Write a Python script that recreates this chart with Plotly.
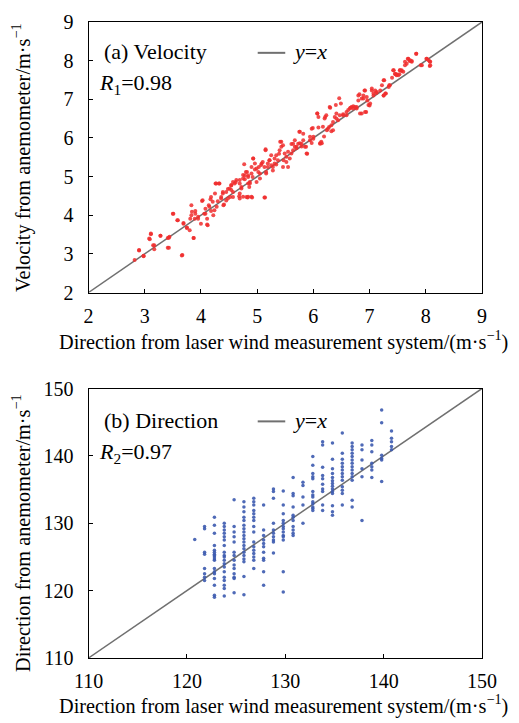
import plotly.graph_objects as go

# ---------------- Data: (a) Velocity ----------------
speed_laser_a = [2.82,2.90,2.98,3.11,3.08,3.17,3.28,3.41,3.43,3.51,3.58,3.66,3.69,3.75,3.81,3.83,3.87,3.90,3.95,4.02,
                 4.06,4.11,4.08,4.17,4.14,4.18,4.22,4.25,4.27,4.33,4.30,4.36,4.39,4.41,4.45,4.48,4.52,4.54,4.57,4.60,
                 4.68,4.72,4.69,4.78,4.77,4.83,4.91,4.86,4.87,4.84,4.90,4.93,4.92,4.96,4.99,5.03,5.05,5.08,5.14,5.15,
                 5.16,5.19,5.22,5.25,5.28,5.31,5.34,5.39,5.41,5.43,5.46,5.47,5.52,5.55,5.61,5.64,5.67,5.70,5.75,5.76,
                 5.79,5.82,5.87,5.89,5.94,5.97,5.99,6.00,6.07,6.09,6.12,6.15,6.19,6.21,6.24,6.28,6.30,6.32,6.35,6.38,
                 6.41,6.44,6.46,6.49,6.53,6.59,6.66,6.71,6.77,6.80,6.82,6.86,6.89,6.92,6.94,6.96,7.00,7.04,7.07,7.12,
                 7.22,7.25,7.26,7.29,7.35,7.40,7.43,7.46,7.48,7.53,7.54,7.57,7.63,7.68,7.71,7.75,7.83,7.91,8.01,8.07,8.07]
speed_anemo_a = [2.84,3.09,2.94,3.53,3.40,3.22,3.47,3.16,3.42,4.04,3.87,2.96,3.80,3.68,3.91,4.26,3.41,4.11,3.96,4.37,
                 4.04,3.76,4.17,4.41,4.26,4.11,4.00,4.56,4.82,4.82,4.36,4.47,4.60,4.28,4.38,4.68,4.47,4.77,4.60,4.82,
                 4.49,4.73,4.91,4.93,5.32,4.46,4.46,4.73,4.86,5.03,5.08,5.47,4.99,5.18,4.86,5.25,5.08,5.34,4.46,5.71,
                 5.08,5.25,5.42,5.55,5.16,5.34,5.31,5.59,5.90,5.77,5.25,5.42,5.51,5.64,5.84,5.68,5.94,5.77,6.16,5.86,
                 5.78,5.94,5.77,5.59,6.03,5.87,6.26,6.03,6.63,6.27,5.86,5.86,6.04,6.54,6.20,6.28,6.78,6.17,6.20,6.54,
                 6.63,6.46,7.03,6.89,6.61,6.59,6.78,6.82,6.80,6.97,7.13,6.63,7.02,7.23,6.67,6.97,6.84,7.23,7.15,7.16,
                 7.36,7.10,7.49,7.15,7.36,7.56,7.75,7.65,7.65,7.65,7.75,7.73,7.97,8.05,7.99,7.99,8.18,7.88,8.05,7.98,7.86]

speed_laser_b = [2.90,2.98,3.09,3.11,3.15,3.17,3.28,3.41,3.43,3.44,3.50,3.59,3.67,3.69,3.75,3.80,3.83,3.84,3.87,3.89,
                 3.90,3.95,4.00,4.03,4.08,4.11,4.12,4.15,4.18,4.21,4.24,4.26,4.28,4.32,4.36,4.39,4.40,4.45,4.48,4.51,
                 4.54,4.57,4.62,4.69,4.72,4.75,4.78,4.81,4.84,4.82]
speed_anemo_b = [3.10,2.95,3.38,3.51,3.22,3.12,3.47,3.41,3.16,3.44,4.04,3.87,2.97,3.78,3.67,3.61,4.00,4.09,3.41,3.91,
                 4.04,3.91,3.78,4.39,4.04,3.91,3.74,4.22,4.47,4.35,4.13,4.82,4.22,4.82,4.43,4.56,4.26,4.60,4.43,4.69,
                 4.78,4.47,4.86,4.43,4.69,4.95,5.03,4.47,4.82,5.12]

speed_laser_c = [4.57,4.63,4.54,4.69,4.75,4.80,4.84,4.87,4.90,4.93,4.96,4.99,5.02,5.05,5.07,5.10,5.13,5.15,5.16,5.19,
                 5.22,5.25,5.28,5.31,5.34,5.37,5.40,5.43,5.46,5.49,5.52,5.55,5.58,5.61,5.64,5.67,5.70,5.73,5.76,5.79,
                 5.82,5.85,5.88,5.94,5.97,6.00,6.07,6.09,6.12,6.14,6.17,6.20,6.23,6.26,6.29,6.32,6.35,6.40,6.41,6.47,
                 6.53,6.59,6.62,4.75,4.84,4.90,5.13,4.69]
speed_anemo_c = [4.86,4.91,4.65,4.82,5.04,5.12,4.99,4.82,5.25,5.47,5.34,5.21,5.12,4.95,5.30,5.38,5.25,5.68,5.12,5.34,
                 5.42,5.29,5.25,5.47,5.55,5.42,5.68,5.90,5.81,5.60,5.38,5.25,5.47,5.60,5.85,5.77,5.73,5.85,6.16,5.85,
                 6.11,5.77,5.60,5.94,6.24,5.98,6.63,6.54,5.85,5.90,6.29,6.50,6.59,6.24,6.80,6.33,6.41,6.85,6.50,6.59,
                 6.59,6.67,6.72,4.48,4.48,4.48,4.46,4.56]

speed_laser_d = [6.65,6.68,6.71,6.74,6.77,6.80,6.83,6.86,6.89,6.91,6.92,6.95,6.98,7.01,7.04,7.07,7.10,7.13,7.19,7.25,
                 7.25,7.28,7.34,7.36,7.42,7.45,7.48,7.51,7.54,7.57,7.60,7.63,7.66,7.69,7.72,7.75,7.83,7.93,8.02,8.08,
                 8.08,8.05]
speed_anemo_d = [6.76,6.80,6.76,6.80,6.76,7.10,6.63,7.02,7.10,7.23,6.67,7.06,6.85,6.89,7.28,7.10,7.23,7.19,7.23,7.49,
                 7.10,7.15,7.32,7.36,7.75,7.66,7.62,7.62,7.75,7.75,7.71,7.88,7.92,8.05,8.01,7.97,8.18,7.88,8.05,7.97,
                 7.88,8.01]

speed_laser = speed_laser_a + speed_laser_b + speed_laser_c + speed_laser_d
speed_anemo = speed_anemo_a + speed_anemo_b + speed_anemo_c + speed_anemo_d

# ---------------- Data: (b) Direction ----------------
dir_columns = [120.8, 121.8, 122.8, 123.8, 124.8, 125.8, 126.8, 127.8, 128.8, 129.8, 130.8,
               131.8, 132.8, 133.8, 134.8, 135.8, 136.8, 137.8, 138.8, 139.8, 140.8]
dir_anemo_by_col = [
    [127.6],
    [129.5, 129.2, 125.7, 125.4, 123.3, 122.5, 122.0, 121.5],
    [130.9, 129.7, 128.5, 126.7, 126.0, 125.7, 125.4, 125.2, 125.0, 124.7, 124.5, 123.3, 122.8, 122.5, 121.8, 120.8, 119.3, 119.0],
    [130.0, 129.5, 129.0, 128.5, 128.0, 127.5, 126.7, 125.7, 125.2, 125.0, 124.5, 124.0, 123.5, 122.8, 122.0, 121.5, 120.8, 120.3, 119.2],
    [133.5, 129.5, 128.7, 128.0, 127.2, 125.7, 125.2, 124.5, 123.8, 123.3, 122.5, 122.0, 121.8, 119.7],
    [133.2, 132.4, 131.7, 130.9, 130.4, 129.7, 129.2, 128.7, 128.2, 127.7, 127.2, 126.7, 126.2, 125.7, 125.2, 124.7, 124.3, 122.1, 119.4],
    [133.7, 133.2, 132.7, 131.9, 131.4, 130.9, 130.4, 129.5, 128.7, 127.2, 126.5, 126.0, 125.5, 125.0, 124.5, 123.3],
    [132.7, 129.0, 128.2, 127.5, 127.0, 126.5, 125.7, 124.8, 124.5, 122.8, 120.8],
    [135.1, 134.7, 133.7, 130.0, 129.0, 128.5, 128.0, 127.5, 127.2, 125.6],
    [134.8, 132.7, 131.4, 130.4, 130.0, 129.5, 129.2, 128.7, 128.2, 128.0, 127.5, 122.8, 119.8],
    [136.8, 134.4, 134.1, 132.4, 131.2, 130.9, 130.4, 129.5, 129.0, 128.5, 128.2],
    [136.1, 135.6, 133.9, 132.7, 130.0],
    [139.9, 138.6, 137.4, 136.9, 136.6, 134.7, 134.2, 133.9, 133.2, 132.9, 132.4, 132.2, 131.9],
    [142.1, 141.6, 138.3, 137.1, 136.6, 135.8, 135.1, 134.7, 132.7, 131.9],
    [141.9, 139.5, 138.1, 137.4, 136.8, 136.3, 135.9, 135.5, 135.1, 134.7, 134.4, 132.6, 131.7, 131.2],
    [143.4, 140.4, 139.5, 138.9, 138.4, 137.9, 137.4, 136.9, 136.4, 135.4, 134.9, 134.4, 132.7],
    [141.9, 141.4, 140.9, 140.4, 139.9, 139.4, 138.9, 138.4, 137.9, 137.4, 136.9, 136.4, 133.4, 132.4],
    [141.6, 140.9, 139.4, 138.1, 136.9, 130.4],
    [142.3, 141.6, 140.6, 138.9, 138.4, 137.9, 136.8],
    [146.8, 144.9, 140.1, 139.6, 139.4, 136.2],
    [143.7, 142.6, 142.1, 141.4, 140.9],
]
dir_laser = [c for c, col in zip(dir_columns, dir_anemo_by_col) for _ in col]
dir_anemo = [v for col in dir_anemo_by_col for v in col]

speed_range = [2, 9]
dir_range = [110, 150]
speed_ticks = [2, 3, 4, 5, 6, 7, 8, 9]
dir_ticks = [110, 120, 130, 140, 150]

FONT = "Liberation Serif"
LINE_COLOR = "#707070"

fig = go.Figure()

fig.add_trace(go.Scatter(x=speed_range, y=speed_range, mode="lines",
                         line=dict(color=LINE_COLOR, width=1.5),
                         xaxis="x", yaxis="y", showlegend=False))
fig.add_trace(go.Scatter(x=speed_laser, y=speed_anemo, mode="markers",
                         marker=dict(color="rgba(240,45,45,0.85)", size=4, line=dict(width=0)),
                         xaxis="x", yaxis="y", showlegend=False))

fig.add_trace(go.Scatter(x=dir_range, y=dir_range, mode="lines",
                         line=dict(color=LINE_COLOR, width=1.5),
                         xaxis="x2", yaxis="y2", showlegend=False))
fig.add_trace(go.Scatter(x=dir_laser, y=dir_anemo, mode="markers",
                         marker=dict(color="rgba(60,90,175,0.9)", size=3.5, line=dict(width=0)),
                         xaxis="x2", yaxis="y2", showlegend=False))

# page body has an 8px margin: figure is laid out in window pixels minus that offset
OFF = 8
W, H = 519 - OFF, 723 - OFF


def fx(px):
    return (px - OFF) / W


def fy(py):
    return 1 - (py - OFF) / H


xdom = [fx(88.5), fx(482)]
ydom1 = [fy(292.5), fy(22)]
ydom2 = [fy(658), fy(388.5)]

axis_common = dict(showline=True, linecolor="black", linewidth=1, mirror=True,
                   ticks="inside", ticklen=4, tickcolor="black", tickwidth=1,
                   showgrid=False, zeroline=False, automargin=False,
                   tickfont=dict(family=FONT, size=20, color="black"))

fig.update_layout(
    width=W, height=H,
    margin=dict(l=0, r=0, t=0, b=0, pad=0, autoexpand=False),
    paper_bgcolor="white", plot_bgcolor="white",
    xaxis=dict(domain=xdom, anchor="y", range=speed_range, tickvals=speed_ticks,
               ticklabelstandoff=5, **axis_common),
    yaxis=dict(domain=ydom1, anchor="x", range=speed_range, tickvals=speed_ticks,
               ticklabelstandoff=10, **axis_common),
    xaxis2=dict(domain=xdom, anchor="y2", range=dir_range, tickvals=dir_ticks,
                ticklabelstandoff=5, **axis_common),
    yaxis2=dict(domain=ydom2, anchor="x2", range=dir_range, tickvals=dir_ticks,
                ticklabelstandoff=10, **axis_common),
)

tf = dict(family=FONT, size=20.3, color="black")
lf = dict(family=FONT, size=22, color="black")
ann = []
# axis titles
ann.append(dict(text="Direction from laser wind measurement system/(m·s<sup>−1</sup>)",
                x=fx(283), y=fy(340), xref="paper", yref="paper",
                xanchor="center", yanchor="middle", showarrow=False, font=tf))
ann.append(dict(text="Direction from laser wind measurement system/(m·s<sup>−1</sup>)",
                x=fx(283), y=fy(704), xref="paper", yref="paper",
                xanchor="center", yanchor="middle", showarrow=False, font=tf))
ann.append(dict(text="Velocity from anemometer/m·s<sup>−1</sup>", textangle=-90,
                x=fx(21), y=fy(158), xref="paper", yref="paper",
                xanchor="center", yanchor="middle", showarrow=False, font=tf))
ann.append(dict(text="Direction from anemometer/m·s<sup>−1</sup>", textangle=-90,
                x=fx(21), y=fy(533), xref="paper", yref="paper",
                xanchor="center", yanchor="middle", showarrow=False, font=tf))

# panel labels
for xr, yr, label, rlabel, ly in [("x domain", "y domain", "(a) Velocity", "<i>R</i><sub>1</sub>=0.98", 0.891),
                                   ("x2 domain", "y2 domain", "(b) Direction", "<i>R</i><sub>2</sub>=0.97", 0.883)]:
    ann.append(dict(text=label, x=0.034, y=ly, xref=xr, yref=yr, xanchor="left", yanchor="middle",
                    showarrow=False, font=lf))
    ann.append(dict(text=rlabel, x=0.022, y=ly - 0.122, xref=xr, yref=yr, xanchor="left", yanchor="middle",
                    showarrow=False, font=lf))
    ann.append(dict(text="<i>y</i>=<i>x</i>", x=0.515, y=ly, xref=xr, yref=yr, xanchor="left", yanchor="middle",
                    showarrow=False, font=lf))
    fig.add_shape(type="line", xref=xr, yref=yr, x0=0.43, x1=0.50, y0=ly - 0.005, y1=ly - 0.005,
                  line=dict(color=LINE_COLOR, width=2))

fig.update_layout(annotations=ann)
fig.write_html("out.html")
